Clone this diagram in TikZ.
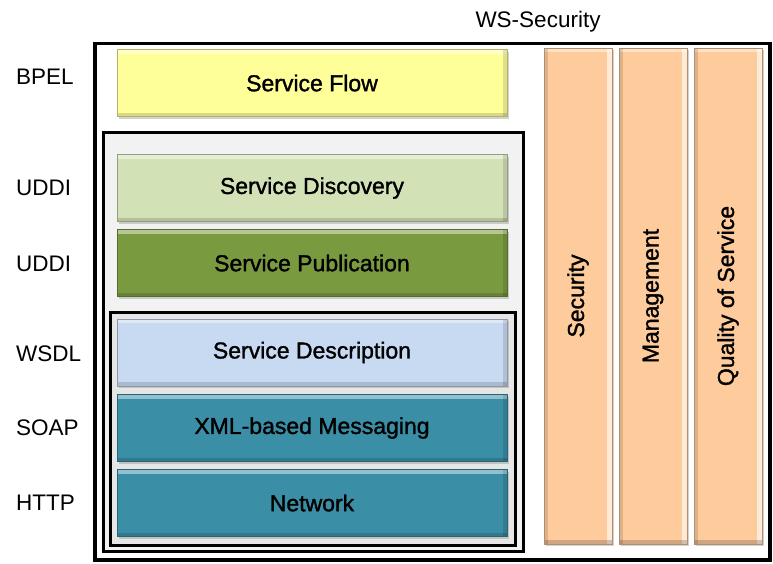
\documentclass[tikz,border=0pt]{standalone}
\usepackage{fontspec}
\setmainfont{Liberation Sans}
\newfontfamily\boxfont[FakeBold=1.4]{Liberation Sans}
\usetikzlibrary{shadows}
\definecolor{cflow}{HTML}{FFFF99}
\definecolor{cdisc}{HTML}{D3E2B6}
\definecolor{cpub}{HTML}{7A9A40}
\definecolor{cdesc}{HTML}{C8DAF2}
\definecolor{cteal}{HTML}{3A8FA6}
\definecolor{corange}{HTML}{FDCB9C}
\definecolor{cgrayA}{HTML}{F2F2F2}
\definecolor{cgrayB}{HTML}{E6E6E6}
\tikzset{
  frame/.style={draw=black, line width=3.2pt},
  lay/.style={fill=#1, draw=#1!70!black, line width=0.6pt,
    minimum width=390pt, minimum height=67pt, inner sep=0pt,
    drop shadow={shadow xshift=1.5pt, shadow yshift=-2pt, opacity=0.35},
    font=\boxfont\fontsize{23}{27}\selectfont,
    path picture={
      \fill[white,opacity=0.45] (path picture bounding box.north west) rectangle ([yshift=-4pt]path picture bounding box.north east);
      \fill[black,opacity=0.15] (path picture bounding box.south west) rectangle ([yshift=4pt]path picture bounding box.south east);
      \fill[black,opacity=0.12] (path picture bounding box.north east) rectangle ([xshift=-4pt]path picture bounding box.south east);
    }},
  bar/.style={fill=corange, draw=corange!70!black, line width=0.6pt,
    minimum width=68pt, minimum height=496pt, inner sep=0pt,
    drop shadow={shadow xshift=1.5pt, shadow yshift=-2pt, opacity=0.35},
    path picture={
      \fill[white,opacity=0.6] (path picture bounding box.north east) rectangle ([xshift=-5pt]path picture bounding box.south east);
      \fill[white,opacity=0.45] (path picture bounding box.north west) rectangle ([yshift=-4pt]path picture bounding box.north east);
      \fill[black,opacity=0.12] (path picture bounding box.north west) rectangle ([xshift=4pt]path picture bounding box.south west);
      \fill[black,opacity=0.18] (path picture bounding box.south west) rectangle ([yshift=4pt]path picture bounding box.south east);
    }},
  bartext/.style={rotate=90, font=\boxfont\fontsize{23}{27}\selectfont},
  lbl/.style={anchor=west, inner sep=0pt, font=\fontsize{22.5}{27}\selectfont}
}
\begin{document}
\begin{tikzpicture}[x=1pt, y=-1pt]
\useasboundingbox[fill=white] (0,0) rectangle (773,563);
% frames
\draw[frame] (95,43.5) rectangle (770,560);
\draw[frame, fill=cgrayA, line width=3pt] (103,132) rectangle (523.5,551.5);
\draw[frame, fill=cgrayB, line width=3pt] (110.5,312) rectangle (515,545.5);
% title
\node[font=\fontsize{22.5}{27}\selectfont, inner sep=0pt] (wss) at (538,22) {WS-Security};
% layers
\node[lay=cflow] (flow) at (312,83) {Service Flow};
\node[lay=cdisc] (disc) at (312,188) {Service Discovery};
\node[lay=cpub] (pub) at (312,263) {Service Publication};
\node[lay=cdesc] (desc) at (312,352.5) {Service Description};
\node[lay=cteal] (xml) at (312,428) {XML-based Messaging};
\node[lay=cteal] (net) at (312,503) {Network};
% bars
\node[bar] (sec) at (578,296) {};
\node[bar] (mgmt) at (653,296) {};
\node[bar] (qos) at (728,296) {};
\node[bartext] (sect) at (sec.center) {Security};
\node[bartext] (mgmtt) at (mgmt.center) {Management};
\node[bartext] (qost) at (qos.center) {Quality of Service};
% left labels
\node[lbl] (bpel) at (16,77) {BPEL};
\node[lbl] (uddi1) at (16,188) {UDDI};
\node[lbl] (uddi2) at (16,264) {UDDI};
\node[lbl] (wsdl) at (16,354) {WSDL};
\node[lbl] (soap) at (16,428) {SOAP};
\node[lbl] (http) at (16,503) {HTTP};
\end{tikzpicture}
\end{document}
